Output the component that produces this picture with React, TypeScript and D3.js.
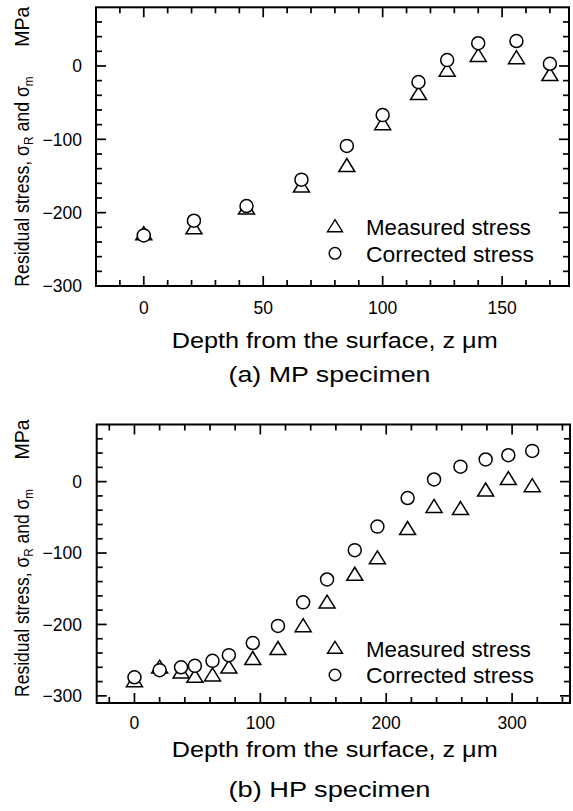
import React from "react";
import * as d3 from "d3";

// ---- data: (a) MP specimen ----
const mpDepth = [0, 21, 43, 66, 85, 100, 115, 127, 140, 156, 170];
const mpMeasured = [-228, -220, -193, -163, -135, -78, -37, -5, 15, 12, -11];
const mpCorrected = [-231, -211, -191, -155, -109, -67, -22, 8, 31, 34, 3];

// ---- data: (b) HP specimen ----
const hpDepth = [0, 20, 37, 48, 62, 75, 94, 114, 134, 153, 175, 193, 217, 238, 259, 279, 297, 316];
const hpMeasured = [-278, -259, -266, -272, -270, -259, -247, -233, -201, -168, -129, -106, -65, -34, -37, -11, 5, -5];
const hpCorrected = [-274, -264, -260, -258, -251, -243, -226, -202, -169, -137, -96, -63, -23, 3, 21, 31, 37, 43];

// ---- ticks & labels ----
const mpXTicks = [0, 50, 100, 150];
const hpXTicks = [0, 100, 200, 300];
const yTickValues = [0, -100, -200, -300];
const legendLabels = ["Measured stress", "Corrected stress"];
const captions = ["(a) MP specimen", "(b) HP specimen"];
const xTitle = "Depth from the surface, z \u03bcm";
const yUnit = "MPa";

const FONT = "'Liberation Sans', Arial, Helvetica, sans-serif";
const TRI_W = 16;
const TRI_H = 13;
const CIRC_R = 6.5;

function triPath(cx: number, cy: number, w = TRI_W, h = TRI_H) {
  const p = d3.path();
  p.moveTo(cx, cy - h / 2);
  p.lineTo(cx + w / 2, cy + h / 2);
  p.lineTo(cx - w / 2, cy + h / 2);
  p.closePath();
  return p.toString();
}

const fmt = (v: number) => (v < 0 ? "\u2212" + Math.abs(v) : String(v));

type PanelProps = {
  left: number; right: number; top: number; bottom: number;
  xDomain: [number, number]; yDomain: [number, number];
  xMajor: number[]; xMinorStep: number; xMajorStep: number;
  depth: number[]; measured: number[]; corrected: number[];
  caption: string;
  legendY1: number; legendY2: number;
  tickBaseline: number; titleBaseline: number; captionBaseline: number;
  yTitleStart: number; yTitleLen: number;
};

function Panel(p: PanelProps) {
  const x = d3.scaleLinear().domain(p.xDomain).range([p.left, p.right]);
  const y = d3.scaleLinear().domain(p.yDomain).range([p.bottom, p.top]);
  const xTickAll = d3.range(Math.ceil(p.xDomain[0] / p.xMinorStep) * p.xMinorStep, p.xDomain[1], p.xMinorStep)
    .filter((v) => x(v) > p.left + 1 && x(v) < p.right - 1);
  const yTickAll = d3.range(Math.ceil(p.yDomain[0] / 20) * 20, p.yDomain[1], 20)
    .filter((v) => y(v) < p.bottom - 1 && y(v) > p.top + 1);
  const MAJ = 10, MIN = 6;
  const isXMajor = (v: number) => Math.abs(v % p.xMajorStep) < 1e-9;
  const isYMajor = (v: number) => Math.abs(v % 100) < 1e-9;
  const mainLen = p.yTitleLen * 0.765;
  const unitStart = p.yTitleLen * 0.873;
  return (
    <g>
      {/* ticks */}
      {xTickAll.map((v) => {
        const L = isXMajor(v) ? MAJ : MIN;
        return (
          <g key={"xt" + v}>
            <line x1={x(v)} x2={x(v)} y1={p.bottom} y2={p.bottom - L} stroke="#000" strokeWidth={1.7} />
            <line x1={x(v)} x2={x(v)} y1={p.top} y2={p.top + L} stroke="#000" strokeWidth={1.7} />
          </g>
        );
      })}
      {yTickAll.map((v) => {
        const L = isYMajor(v) ? MAJ : MIN;
        return (
          <g key={"yt" + v}>
            <line x1={p.left} x2={p.left + L} y1={y(v)} y2={y(v)} stroke="#000" strokeWidth={1.7} />
            <line x1={p.right} x2={p.right - L} y1={y(v)} y2={y(v)} stroke="#000" strokeWidth={1.7} />
          </g>
        );
      })}
      {/* frame */}
      <rect x={p.left} y={p.top} width={p.right - p.left} height={p.bottom - p.top} fill="none" stroke="#000" strokeWidth={2} />
      {/* y tick labels */}
      {yTickValues.map((v) => (
        <text key={"yl" + v} x={82} y={y(v) + 6.3} textAnchor="end" fontSize={17.5} fontFamily={FONT} fill="#000">
          {fmt(v)}
        </text>
      ))}
      {/* x tick labels */}
      {p.xMajor.map((v) => (
        <text key={"xl" + v} x={x(v)} y={p.tickBaseline} textAnchor="middle" fontSize={17.5} fontFamily={FONT} fill="#000">
          {fmt(v)}
        </text>
      ))}
      {/* data */}
      {p.depth.map((d, i) => (
        <path key={"m" + i} d={triPath(x(d), y(p.measured[i]))} fill="#fff" stroke="#000" strokeWidth={1.5} />
      ))}
      {p.depth.map((d, i) => (
        <circle key={"c" + i} cx={x(d)} cy={y(p.corrected[i])} r={CIRC_R} fill="#fff" stroke="#000" strokeWidth={1.5} />
      ))}
      {/* legend */}
      <path d={triPath(335, p.legendY1, 15, 12)} fill="#fff" stroke="#000" strokeWidth={1.4} />
      <text x={366} y={p.legendY1 + 9.3} fontSize={22} fontFamily={FONT} fill="#000" textLength={165} lengthAdjust="spacingAndGlyphs">{legendLabels[0]}</text>
      <circle cx={335} cy={p.legendY2} r={5.8} fill="#fff" stroke="#000" strokeWidth={1.4} />
      <text x={366} y={p.legendY2 + 8.4} fontSize={22} fontFamily={FONT} fill="#000" textLength={168} lengthAdjust="spacingAndGlyphs">{legendLabels[1]}</text>
      {/* x title */}
      <text x={171.7} y={p.titleBaseline} fontSize={22} fontFamily={FONT} fill="#000" textLength={326} lengthAdjust="spacingAndGlyphs">
        {xTitle}
      </text>
      {/* caption */}
      <text x={228.5} y={p.captionBaseline} fontSize={22} fontFamily={FONT} fill="#000" textLength={202} lengthAdjust="spacingAndGlyphs">
        {p.caption}
      </text>
      {/* y title */}
      <g transform={`translate(28.5,${p.yTitleStart}) rotate(-90)`}>
        <text x={0} y={0} fontSize={19.5} fontFamily={FONT} fill="#000" textLength={mainLen} lengthAdjust="spacingAndGlyphs">
          <tspan>Residual stress, σ</tspan>
          <tspan fontSize={13} dy={4}>R</tspan>
          <tspan dy={-4}> and σ</tspan>
          <tspan fontSize={13} dy={4}>m</tspan>
        </text>
        <text x={unitStart} y={0} fontSize={19.5} fontFamily={FONT} fill="#000">{yUnit}</text>
      </g>
    </g>
  );
}

export default function App() {
  return (
    <svg
      width={573}
      height={811}
      viewBox="0 0 573 811"
      style={{ position: "absolute", left: 0, top: 0, background: "#fff" }}
    >
      <rect x={0} y={0} width={573} height={811} fill="#fff" />
      <Panel
        left={96} right={569} top={7.3} bottom={286}
        xDomain={[-20, 178]} yDomain={[-300, 80]}
        xMajor={mpXTicks} xMinorStep={10} xMajorStep={50}
        depth={mpDepth} measured={mpMeasured} corrected={mpCorrected}
        caption={captions[0]}
        legendY1={225.7} legendY2={253.3}
        tickBaseline={314.3} titleBaseline={348.3} captionBaseline={382.3}
        yTitleStart={286.7} yTitleLen={275}
      />
      <Panel
        left={96.7} right={570} top={424.5} bottom={703}
        xDomain={[-30, 346]} yDomain={[-310, 80]}
        xMajor={hpXTicks} xMinorStep={20} xMajorStep={100}
        depth={hpDepth} measured={hpMeasured} corrected={hpCorrected}
        caption={captions[1]}
        legendY1={647.3} legendY2={675}
        tickBaseline={728.5} titleBaseline={757} captionBaseline={797}
        yTitleStart={697} yTitleLen={272}
      />
    </svg>
  );
}
